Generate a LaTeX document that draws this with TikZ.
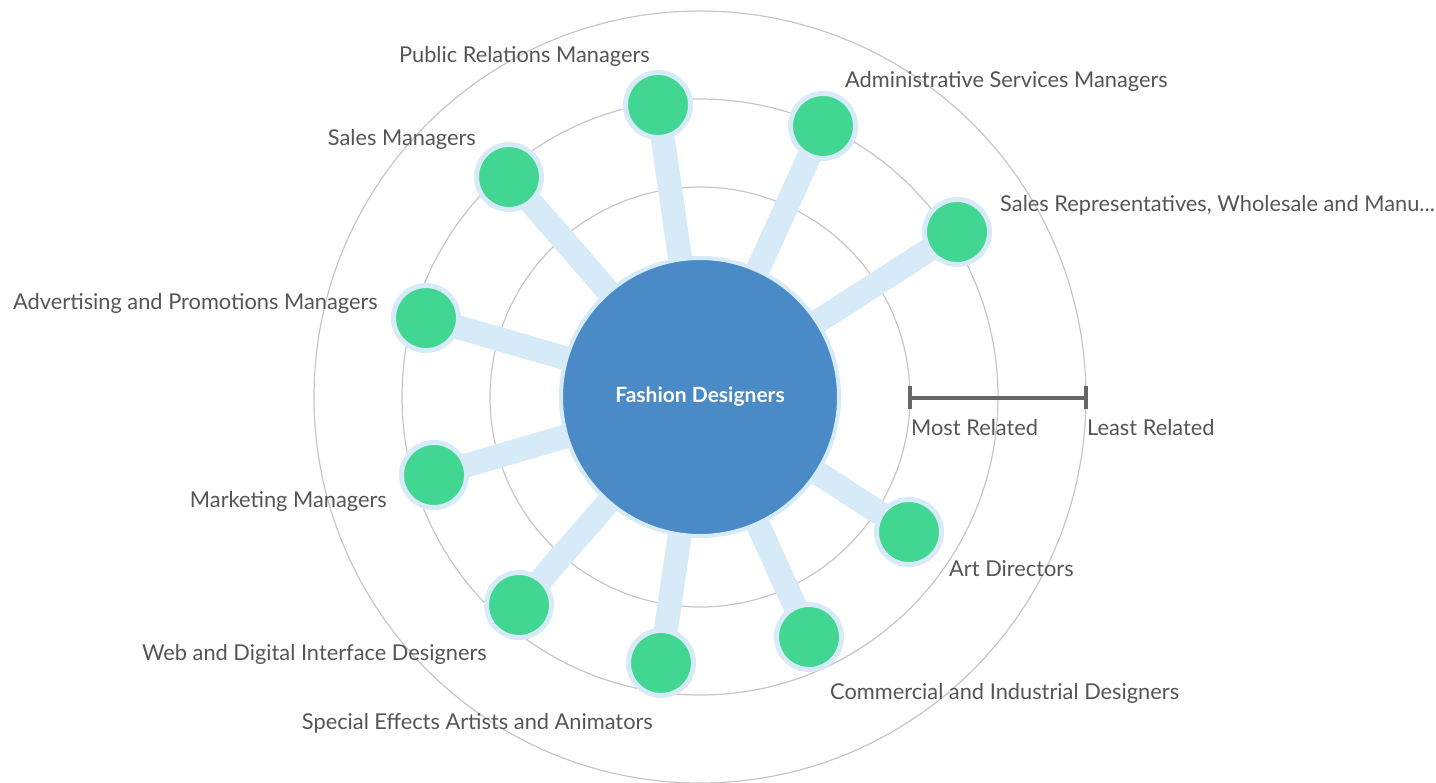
\documentclass[tikz,border=0pt]{standalone}
\usepackage{fontspec}
\setmainfont{Lato}
\usepackage{xcolor}
\usetikzlibrary{positioning,backgrounds}

\definecolor{hubblue}{HTML}{4A8BC7}
\definecolor{spokeblue}{HTML}{D6EAF8}
\definecolor{jobgreen}{HTML}{41D691}
\definecolor{labelgray}{HTML}{555555}
\definecolor{ringgray}{HTML}{C6C6C6}
\definecolor{bargray}{HTML}{666666}

\begin{document}
\begin{tikzpicture}[
    x=1pt, y=-1pt,
    hub/.style={
        circle,
        fill=hubblue,
        draw=spokeblue,
        line width=4pt,
        minimum size=278pt,
        inner sep=0pt,
        text=white,
        font=\fontsize{21}{24}\selectfont\bfseries
    },
    job/.style={
        circle,
        fill=jobgreen,
        draw=spokeblue,
        line width=5pt,
        minimum size=65pt,
        inner sep=0pt
    },
    ring/.style={draw=ringgray, line width=1.2pt},
    spoke/.style={draw=spokeblue, line width=24pt},
    label/.style={font=\fontsize{21.8}{26}\selectfont, text=labelgray, inner sep=0pt},
    bar/.style={draw=bargray, line width=4pt}
]
\useasboundingbox (0,0) rectangle (1436,783);

% Nodes
\node[hub] (fd) at (700, 397) {Fashion Designers};
\node[job] (pr) at (658, 105) {};
\node[job] (asm) at (823, 126) {};
\node[job] (srep) at (957, 232) {};
\node[job] (sm) at (509, 177) {};
\node[job] (apm) at (426, 318) {};
\node[job] (mm) at (434, 475) {};
\node[job] (wdi) at (519, 605) {};
\node[job] (sfx) at (661, 663) {};
\node[job] (cid) at (809, 637) {};
\node[job] (ad) at (909, 532) {};

% Labels
\node[label, anchor=east] (prl) at (650, 56) {Public Relations Managers};
\node[label, anchor=west] (asml) at (845, 81) {Administrative Services Managers};
\node[label, anchor=west] (srepl) at (1000, 205) {Sales Representatives, Wholesale and Manu...};
\node[label, anchor=east] (sml) at (476, 139) {Sales Managers};
\node[label, anchor=east] (apml) at (378, 303) {Advertising and Promotions Managers};
\node[label, anchor=east] (mml) at (387, 501) {Marketing Managers};
\node[label, anchor=east] (wdil) at (487, 654) {Web and Digital Interface Designers};
\node[label, anchor=east] (sfxl) at (653, 723) {Special Effects Artists and Animators};
\node[label, anchor=west] (cidl) at (830, 693) {Commercial and Industrial Designers};
\node[label, anchor=west] (adl) at (949, 569) {Art Directors};

% Scale bar
\coordinate (most) at (910, 398);
\coordinate (least) at (1086, 398);
\draw[bar] (most) -- (least);
\draw[bar] ([yshift=-11.5pt]most) -- ([yshift=11.5pt]most);
\draw[bar] ([yshift=-11.5pt]least) -- ([yshift=11.5pt]least);
\node[label, anchor=west] (mostl) at (911, 428) {Most Related};
\node[label, anchor=west] (leastl) at (1087, 428) {Least Related};

% Rings and spokes
\begin{scope}[on background layer]
    \foreach \r in {210, 298, 386}
        \draw[ring] (fd.center) circle[radius=\r];
    \foreach \j in {pr, asm, srep, sm, apm, mm, wdi, sfx, cid, ad}
        \draw[spoke] (fd.center) -- (\j.center);
\end{scope}

\end{tikzpicture}
\end{document}
